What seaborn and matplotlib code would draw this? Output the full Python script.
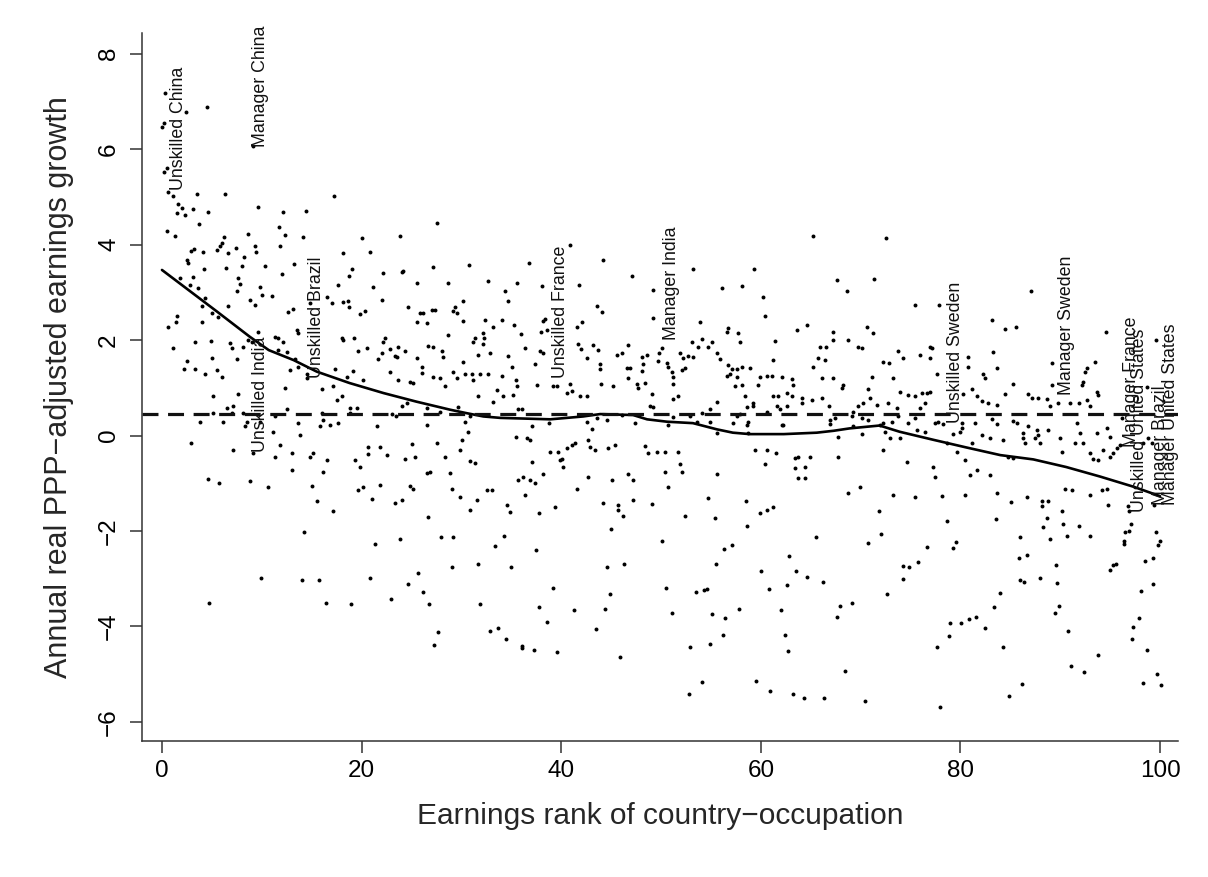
import numpy as np
import pandas as pd
import matplotlib
matplotlib.use('Agg')
import matplotlib.pyplot as plt
import seaborn as sns

# points, grouped by region of the plot: (earnings rank, growth)
pts_upper_left = [
    (0.30, 7.18), (2.41, 6.79), (4.54, 6.88), (0.0, 6.47), (0.20, 6.54), (0.20, 5.53), (0.47, 5.60),
    (0.64, 5.11), (1.14, 5.02), (9.15, 6.07), (3.48, 5.07), (6.32, 5.07), (1.64, 4.86), (1.97, 4.76),
    (1.47, 4.67), (2.31, 4.62), (3.08, 4.75), (4.65, 4.69), (3.74, 4.43), (0.54, 4.29), (1.31, 4.19),
    (9.65, 4.79), (12.09, 4.68), (14.43, 4.71), (17.27, 5.02), (27.59, 4.45), (11.76, 4.36), (12.33, 4.21),
    (8.65, 4.23), (6.21, 4.15), (5.98, 4.03), (5.81, 3.97), (5.48, 3.89), (6.65, 3.83), (7.42, 3.92),
    (9.32, 3.97), (9.42, 3.85), (11.83, 3.97), (14.10, 4.17), (20.01, 4.13), (23.85, 4.18), (18.11, 3.83),
    (20.84, 3.85), (2.87, 3.87), (3.21, 3.90), (4.14, 3.85), (2.47, 3.68), (2.64, 3.61), (4.21, 3.49),
    (6.42, 3.51), (7.98, 3.55), (8.22, 3.75), (10.32, 3.55), (13.23, 3.59), (19.01, 3.49), (24.18, 3.45),
    (27.12, 3.54), (30.80, 3.57),
]
pts_mid_left = [
    (1.80, 3.30), (3.14, 3.32), (2.81, 3.16), (3.64, 3.09), (3.98, 2.72), (4.31, 2.88), (1.47, 2.51),
    (1.41, 2.37), (0.64, 2.28), (3.98, 2.37), (4.98, 2.56), (5.65, 2.49), (6.65, 2.72), (7.82, 3.18),
    (7.65, 3.30), (7.48, 3.02), (8.82, 2.83), (9.32, 2.74), (9.82, 3.12), (9.99, 2.95), (10.99, 2.93),
    (11.99, 3.39), (1.14, 1.83), (3.31, 1.95), (4.88, 1.98), (4.98, 1.62), (2.54, 1.57), (2.21, 1.39),
    (3.31, 1.39), (4.31, 1.29), (5.48, 1.37), (5.98, 1.23), (6.82, 1.93), (6.98, 1.83), (7.55, 1.60),
    (8.15, 1.85), (8.65, 2.00), (8.99, 1.97), (9.65, 2.18), (11.32, 2.07), (11.66, 2.04), (12.16, 1.97),
    (11.66, 1.79), (12.49, 1.76), (13.33, 1.60), (12.83, 1.37), (13.66, 1.44), (14.50, 1.30), (14.50, 1.20),
    (13.50, 2.21), (13.66, 2.14), (12.66, 2.58), (13.16, 2.65), (14.83, 2.77), (16.50, 2.91), (17.00, 2.77),
    (17.67, 3.16), (18.17, 2.79), (18.67, 2.81), (18.77, 2.70), (19.84, 2.55), (20.34, 2.60), (21.18, 3.11),
    (22.01, 2.83), (18.01, 2.04), (19.24, 2.04), (18.17, 2.00), (20.51, 1.83), (19.67, 1.78), (21.68, 1.60),
    (22.01, 1.72), (22.18, 1.97), (22.35, 2.04), (22.85, 1.81), (23.35, 1.67), (23.68, 1.85), (24.35, 1.78),
    (23.52, 1.65), (25.52, 1.62), (26.02, 1.43), (26.02, 1.31), (26.69, 1.88), (27.19, 1.85), (28.03, 1.78),
    (28.19, 1.64), (28.69, 2.11), (29.19, 2.60), (29.53, 2.56), (29.36, 2.69), (27.36, 2.63), (27.02, 2.63),
    (26.19, 2.56), (25.85, 2.56), (26.52, 2.35), (25.52, 2.37), (24.69, 2.69), (25.59, 3.19), (28.69, 3.19),
    (30.20, 2.81), (30.20, 2.39), (31.37, 2.04), (31.20, 1.97), (32.20, 2.14), (32.30, 2.04), (32.20, 1.92),
    (33.20, 2.27), (32.37, 2.42), (32.70, 3.23), (31.70, 1.69), (32.87, 1.72), (30.20, 1.55), (29.19, 1.34),
    (29.53, 1.20), (30.36, 1.30), (31.03, 1.30), (31.20, 1.17), (31.87, 1.30), (32.70, 1.30), (28.36, 1.03),
    (27.19, 1.23), (27.86, 1.20), (24.85, 1.13), (25.19, 1.10), (23.68, 1.17), (22.85, 1.34), (20.18, 1.17),
    (19.17, 1.36), (18.51, 1.23), (17.34, 1.39), (17.17, 1.04), (16.00, 0.97), (18.01, 0.83), (17.50, 0.75),
    (18.84, 0.57), (12.49, 0.55), (12.33, 0.99), (7.65, 0.87), (5.15, 0.83), (6.48, 0.57), (7.15, 0.61),
    (6.98, 0.47), (5.15, 0.47), (8.15, 0.47), (3.81, 0.29), (6.15, 0.29), (8.49, 0.29), (8.32, 0.19),
    (9.82, 0.29), (11.32, 0.40), (11.16, 0.08), (13.66, 0.27), (13.83, 0.01), (16.00, 0.47), (16.17, 0.33),
    (15.83, 0.19), (16.84, 0.22), (17.67, 0.27), (18.84, 0.47), (19.51, 0.57), (21.51, 0.19), (20.68, -0.23),
    (21.85, -0.25), (22.51, -0.41), (20.68, -0.38), (19.34, -0.51), (19.84, -0.65), (16.50, -0.51),
    (15.17, -0.37), (14.83, -0.44), (12.99, -0.36), (12.99, -0.72), (11.83, -0.20), (11.32, -0.45),
    (9.15, -0.36), (7.15, -0.30), (2.87, -0.16), (4.65, -0.92), (5.75, -0.99), (8.82, -0.95), (10.66, -1.07),
    (15.00, -1.06), (15.50, -1.38), (17.10, -1.59), (16.17, -0.76), (19.67, -1.14), (20.18, -1.07),
    (21.01, -1.33), (21.85, -1.03), (23.35, -1.42), (24.02, -1.35), (24.85, -1.06), (25.19, -1.13),
    (26.52, -0.79), (26.86, -0.76), (27.52, -0.16), (26.52, 0.22), (25.02, -0.18), (25.35, -0.44),
    (24.35, -0.50), (28.36, -0.45), (28.86, -0.78), (29.03, -1.13), (29.86, -1.29), (30.86, -0.54),
    (31.37, -0.57), (31.53, -1.36), (32.54, -1.15), (33.03, -1.14), (29.86, -0.30), (30.03, -0.09),
    (30.70, 0.08), (30.36, 0.29), (30.86, 0.40), (23.02, 0.45), (23.45, 0.40), (24.02, 0.62), (24.52, 0.68),
    (26.52, 0.57), (27.86, 0.50), (29.70, 0.59), (29.86, 0.47), (31.70, 0.83), (33.20, 0.71), (33.54, 0.96),
    (30.86, -1.56), (26.69, -1.71), (24.02, 3.43), (22.18, 3.40), (18.77, 3.34),
]
pts_low_left = [
    (4.7, -3.51), (9.9, -2.99), (14.0, -3.03), (15.7, -3.02), (16.4, -3.51), (18.9, -3.53), (20.8, -2.99),
    (22.9, -3.43), (24.7, -3.11), (25.7, -2.88), (26.2, -3.28), (26.8, -3.54), (27.7, -4.11), (27.3, -4.38),
    (29.1, -2.75), (31.7, -2.70), (31.9, -3.53), (32.9, -4.10), (33.7, -4.04), (33.4, -2.31), (14.2, -2.03),
    (21.3, -2.28), (23.8, -2.17), (28.0, -2.13), (29.2, -2.12),
]
pts_upper_mid = [
    (36.81, 3.61), (40.88, 3.99), (44.22, 3.68), (53.17, 3.50), (59.32, 3.50), (65.27, 4.18), (72.55, 4.13),
]
pts_mid_mid = [
    (34.37, 3.02), (34.71, 2.81), (35.54, 3.20), (38.04, 3.13), (34.04, 2.42), (35.27, 2.32), (35.94, 2.13),
    (38.15, 2.39), (38.38, 2.44), (37.94, 2.18), (38.55, 2.21), (41.82, 3.15), (43.56, 2.71), (44.06, 2.58),
    (42.05, 2.37), (41.55, 2.28), (47.06, 3.34), (49.23, 3.04), (49.17, 2.46), (36.38, 1.83), (34.71, 1.67),
    (35.04, 1.44), (37.38, 1.50), (38.21, 1.72), (37.88, 1.78), (34.04, 1.25), (35.47, 1.17), (35.61, 1.04),
    (37.61, 1.06), (39.15, 1.04), (39.55, 1.03), (34.20, 0.82), (35.21, 0.85), (40.88, 1.09), (40.55, 0.89),
    (41.05, 0.94), (41.72, 1.92), (41.95, 1.81), (42.62, 1.62), (43.22, 1.90), (43.72, 1.79), (43.89, 1.50),
    (43.89, 1.40), (43.96, 1.08), (45.23, 1.04), (45.56, 1.69), (46.06, 1.74), (46.73, 1.90), (46.56, 1.41),
    (46.73, 1.20), (46.90, 1.41), (47.56, 1.09), (47.73, 0.99), (48.07, 1.64), (48.57, 1.69), (48.23, 1.50),
    (48.07, 1.36), (48.40, 1.11), (49.07, 0.88), (49.84, 1.74), (49.74, 1.57), (50.07, 1.83), (50.57, 1.53),
    (50.74, 1.44), (51.07, 1.34), (51.24, 1.23), (52.07, 1.37), (52.41, 1.41), (51.24, 1.09), (51.74, 0.82),
    (51.24, 0.76), (51.91, 1.74), (52.17, 1.62), (52.74, 1.67), (53.08, 1.97), (53.24, 1.64), (53.74, 1.85),
    (54.08, 2.02), (54.75, 1.85), (55.08, 1.97), (55.58, 1.72), (53.91, 2.37), (56.58, 2.16), (56.75, 2.25),
    (57.75, 2.14), (57.92, 1.97), (55.91, 1.60), (56.75, 1.48), (57.08, 1.39), (57.58, 1.39), (56.58, 1.25),
    (56.92, 1.29), (57.58, 1.23), (58.08, 1.43), (58.92, 1.41), (57.42, 1.04), (58.08, 1.06), (58.42, 0.82),
    (59.25, 0.69), (59.25, 0.62), (59.75, 1.06), (59.92, 1.23), (60.59, 1.25), (61.09, 1.25), (61.26, 1.58),
    (61.43, 1.99), (62.09, 1.22), (63.10, 1.18), (63.26, 1.06), (61.76, 0.82), (61.26, 0.82), (62.59, 0.89),
    (63.10, 0.83), (63.60, 2.21), (64.60, 2.32), (67.27, 2.18), (67.27, 2.00), (68.77, 2.00), (67.60, 3.25),
    (68.61, 3.02), (56.08, 3.09), (58.08, 3.13), (60.26, 2.90), (60.42, 2.50), (65.93, 1.85), (66.54, 1.86),
    (65.77, 1.62), (66.43, 1.58), (65.27, 1.43), (66.10, 1.20), (67.27, 1.20), (68.27, 1.06), (68.10, 0.99),
    (64.10, 0.78), (65.10, 0.75), (66.10, 0.78), (66.87, 0.61), (64.10, 0.68), (62.59, 0.61), (61.93, 0.55),
    (61.59, 0.61), (58.59, 0.59), (58.75, 0.29), (57.92, 0.45), (58.59, 0.22), (57.25, 0.26), (55.58, 0.71),
    (54.91, 0.55), (54.08, 0.48), (52.91, 0.41), (51.24, 0.38), (50.74, 0.22), (48.90, 0.62), (49.23, 0.60),
    (47.40, 0.26), (46.06, 0.43), (44.56, 0.33), (43.56, 0.36), (42.55, 0.29), (41.89, 0.82), (42.55, 0.83),
    (38.81, 0.26), (37.04, 0.20), (35.71, 0.55), (36.04, 0.55), (60.59, 0.50), (62.09, 0.22), (62.26, 0.22),
    (66.94, 0.33), (66.94, 0.24), (67.44, 0.36), (67.77, -0.04), (67.77, -0.46), (68.77, -1.21), (35.47, -0.02),
    (36.54, -0.06), (36.88, -0.09), (38.88, -0.34), (39.72, -0.34), (40.05, -0.50), (40.55, -0.27),
    (41.05, -0.20), (41.38, -0.16), (42.72, -0.09), (42.89, -0.23), (43.39, -0.30), (44.73, -0.27),
    (45.39, -0.20), (48.40, -0.22), (48.73, -0.37), (49.57, -0.34), (50.40, -0.34), (51.74, -0.34),
    (51.91, -0.60), (52.07, -0.76), (50.40, -0.76), (50.74, -1.08), (46.73, -0.80), (47.23, -0.93),
    (45.06, -0.94), (42.72, -0.86), (41.62, -1.11), (40.22, -0.65), (39.88, -0.51), (37.04, -0.55),
    (35.71, -0.94), (36.21, -0.87), (36.88, -0.94), (37.38, -1.00), (38.21, -0.80), (36.38, -1.24),
    (34.54, -1.45), (34.87, -1.61), (37.81, -1.63), (39.38, -1.49), (44.22, -1.42), (45.73, -1.45),
    (45.73, -1.57), (46.23, -1.68), (47.23, -1.35), (49.07, -1.43), (52.41, -1.68), (55.41, -1.73),
    (54.75, -1.31), (55.58, -0.80), (58.52, -1.38), (59.92, -1.63), (60.59, -1.55), (61.26, -1.49),
    (59.42, -0.30), (60.59, -0.30), (61.53, -0.36), (60.42, -0.60), (63.43, -0.48), (63.76, -0.46),
    (64.93, -0.44), (63.43, -0.69), (64.43, -0.66), (63.76, -0.90), (64.43, -0.90), (55.58, 0.05),
    (53.58, 0.29), (54.91, 0.29), (57.58, 0.41), (58.75, 0.05), (43.05, 0.13),
]
pts_low_mid = [
    (34.27, -2.10), (37.44, -2.40), (34.94, -2.76), (39.15, -3.20), (37.81, -3.60), (38.55, -3.90),
    (41.28, -3.66), (34.47, -4.27), (36.04, -4.41), (36.04, -4.46), (37.28, -4.50), (39.55, -4.54),
    (43.46, -4.05), (44.39, -3.63), (44.89, -3.31), (44.56, -2.75), (46.33, -2.70), (44.99, -1.96),
    (45.89, -4.65), (50.14, -2.20), (50.50, -3.20), (51.07, -3.71), (58.65, -1.89), (56.32, -2.38),
    (57.15, -2.29), (55.51, -2.70), (53.51, -3.28), (54.31, -3.23), (54.65, -3.22), (55.11, -3.73),
    (56.42, -3.83), (57.85, -3.63), (56.21, -4.17), (54.95, -4.37), (52.88, -4.43), (54.11, -5.17),
    (52.77, -5.41), (60.02, -2.83), (60.82, -3.22), (62.83, -2.53), (63.56, -2.84), (64.63, -2.96),
    (65.53, -2.13), (66.27, -3.07), (62.63, -3.14), (62.03, -3.65), (62.46, -4.18), (62.76, -4.51),
    (67.90, -3.57), (67.64, -3.80), (68.44, -4.94), (59.55, -5.14), (60.92, -5.35), (63.26, -5.41),
    (64.37, -5.50), (66.37, -5.50),
]
pts_mid_right = [
    (71.34, 3.29), (75.45, 2.74), (77.89, 2.74), (70.61, 2.27), (71.21, 2.14), (69.78, 1.85), (70.11, 1.83),
    (73.78, 1.78), (76.96, 1.85), (77.12, 1.83), (76.96, 1.62), (74.28, 1.62), (72.21, 1.55), (72.88, 1.53),
    (73.21, 1.20), (75.95, 1.69), (77.62, 1.29), (80.80, 1.65), (80.80, 1.44), (83.13, 2.43), (84.47, 2.23),
    (85.57, 2.27), (87.04, 3.02), (83.24, 1.76), (83.64, 1.41), (82.30, 1.29), (82.47, 1.20), (85.31, 1.08),
    (89.15, 1.53), (89.15, 1.06), (92.65, 1.41), (92.49, 1.34), (92.32, 1.13), (92.15, 1.06), (93.49, 1.55),
    (94.59, 2.16), (93.66, 0.92), (93.82, 0.85), (71.11, 1.23), (70.78, 0.97), (70.94, 0.78), (70.21, 0.68),
    (69.78, 0.61), (69.27, 0.50), (71.61, 0.64), (72.78, 0.68), (73.62, 0.57), (74.79, 0.85), (75.45, 0.82),
    (76.12, 0.89), (76.62, 0.89), (76.96, 0.92), (76.46, 0.68), (75.95, 0.57), (73.95, 0.92), (80.30, 0.87),
    (81.13, 0.97), (81.63, 0.82), (82.13, 0.73), (82.80, 0.68), (83.64, 0.64), (84.47, 0.87), (86.81, 0.88),
    (87.14, 0.78), (87.81, 0.78), (88.65, 0.76), (88.98, 0.61), (89.82, 0.68), (90.98, 0.68), (91.92, 0.69),
    (92.72, 0.75), (92.99, 0.61), (70.11, 0.36), (70.78, 0.33), (71.95, 0.22), (72.28, 0.26), (73.11, 0.29),
    (73.78, 0.40), (74.79, 0.26), (75.45, 0.36), (77.46, 0.26), (77.79, 0.29), (78.23, 0.24), (80.13, 0.26),
    (80.13, 0.15), (81.47, 0.26), (83.13, 0.34), (83.64, 0.24), (85.31, 0.31), (85.64, 0.26), (86.81, 0.19),
    (87.64, 0.12), (87.81, 0.01), (87.48, -0.06), (87.98, -0.16), (88.81, 0.12), (86.31, 0.05),
    (86.31, -0.06), (86.47, -0.16), (91.65, 0.26), (91.98, 0.06), (91.48, -0.16), (89.98, -0.06),
    (90.15, -0.34), (92.32, -0.16), (93.66, 0.05), (94.66, 0.15), (94.99, -0.02), (94.32, -0.30),
    (93.32, -0.50), (93.82, -0.51), (92.99, -0.37), (94.99, -0.44), (95.33, -0.37), (95.66, -0.27),
    (96.00, -0.20), (98.83, -0.06), (99.17, -0.15), (98.33, -0.16), (99.60, 2.00), (69.11, 0.40),
    (69.27, 0.19), (70.11, 0.03), (72.45, 0.08), (72.95, -0.06), (73.95, -0.06), (75.62, 0.12), (76.46, 0.08),
    (79.96, 0.08), (79.29, 0.03), (81.13, -0.16), (82.13, 0.01), (82.97, -0.06), (84.31, -0.09),
    (84.81, -0.44), (85.31, -0.48), (82.97, -0.83), (81.63, -0.72), (80.47, -0.51), (79.63, -0.34),
    (77.29, -0.65), (77.46, -0.86), (74.62, -0.55), (72.28, -0.30), (69.94, -1.08), (73.28, -1.24),
    (75.45, -1.28), (78.12, -1.27), (80.47, -1.24), (83.64, -1.21), (86.64, -1.28), (90.48, -1.11),
    (91.15, -1.14), (93.00, -1.25), (94.16, -1.15), (94.66, -1.13), (80.96, -0.83), (78.63, -0.16),
    (96.16, 0.36), (98.67, 1.02),
]
pts_low_right = [
    (71.88, -1.59), (72.01, -2.06), (70.71, -2.26), (76.69, -2.33), (78.63, -1.80), (79.56, -2.24),
    (79.23, -2.35), (74.28, -2.73), (74.89, -2.75), (75.79, -2.66), (74.22, -3.01), (72.61, -3.32),
    (69.11, -3.50), (70.44, -5.56), (77.96, -5.68), (77.69, -4.43), (78.89, -4.21), (78.96, -3.92),
    (80.03, -3.92), (80.86, -3.85), (81.57, -3.81), (82.47, -4.04), (83.37, -3.60), (83.94, -3.30),
    (84.24, -4.43), (84.84, -5.45), (86.17, -5.20), (83.54, -1.75), (85.10, -1.40), (85.94, -2.13),
    (85.84, -2.56), (86.64, -2.50), (86.01, -3.03), (86.37, -3.07), (87.94, -2.99), (88.14, -1.37),
    (88.18, -1.47), (88.78, -1.38), (88.64, -1.73), (88.28, -1.91), (88.98, -2.17), (90.18, -1.58),
    (90.32, -1.85), (90.65, -2.10), (91.92, -1.90), (92.99, -2.10), (89.55, -2.72), (89.68, -3.08),
    (89.92, -3.57), (89.48, -3.71), (90.82, -4.10), (91.05, -4.82), (92.35, -4.95), (93.79, -4.60),
    (94.83, -1.45), (96.83, -1.47), (96.90, -1.59), (97.10, -1.86), (96.93, -1.99), (96.53, -2.03),
    (96.43, -2.20), (96.36, -2.28), (95.00, -2.82), (95.26, -2.72), (95.63, -2.69), (98.07, -3.25),
    (99.33, -3.12), (98.50, -2.63), (99.27, -2.57), (99.60, -2.03), (100.0, -2.22), (99.80, -2.30),
    (99.43, -1.45), (97.90, -3.82), (97.26, -4.02), (97.16, -4.26), (98.70, -4.50), (98.33, -5.18),
    (99.70, -5.00), (100.07, -5.22),
]

# smoothed (lowess) line
smooth_rank = [0, 5.5, 8.8, 10.7, 13.2, 15.5, 18.8, 22.2, 25.5, 28.9, 30.5, 32.2, 33.9, 38.9, 42.2,
               43.9, 47.2, 48.6, 50.6, 53.2, 55.6, 57.2, 58.9, 62.3, 65.6, 67.3, 68.9, 71.9, 73.9,
               77.3, 80.6, 84.0, 87.3, 90.6, 94.0, 97.3, 100.0]
smooth_growth = [3.47, 2.60, 2.07, 1.79, 1.58, 1.34, 1.10, 0.89, 0.71, 0.54, 0.47, 0.40, 0.37, 0.34, 0.40,
                 0.45, 0.43, 0.34, 0.29, 0.26, 0.13, 0.06, 0.03, 0.03, 0.06, 0.10, 0.15, 0.21, 0.08,
                 -0.09, -0.25, -0.41, -0.50, -0.66, -0.86, -1.07, -1.27]
mean_growth = 0.45

label_text = ['Unskilled China', 'Manager China', 'Unskilled India', 'Unskilled Brazil',
              'Unskilled France', 'Manager India', 'Unskilled Sweden', 'Manager Sweden',
              'Manager France', 'Unskilled United States', 'Manager Brazil', 'Manager United States']
label_rank = [1.7, 9.9, 9.9, 15.5, 39.9, 51.1, 79.5, 90.65, 97.1, 97.9, 100.0, 101.0]
label_growth = [5.14, 6.05, -0.34, 1.20, 1.21, 2.0, 0.26, 0.85, -0.24, -1.6, -1.46, -1.46]

xticks = [0, 20, 40, 60, 80, 100]
yticks = [-6, -4, -2, 0, 2, 4, 6, 8]

sns.set_theme(style='ticks')
plt.rcParams['font.family'] = ['Liberation Sans', 'DejaVu Sans']

pts = (pts_upper_left + pts_mid_left + pts_low_left + pts_upper_mid + pts_mid_mid
       + pts_low_mid + pts_mid_right + pts_low_right)
df = pd.DataFrame(pts, columns=['rank', 'growth'])
smooth = pd.DataFrame({'rank': smooth_rank, 'growth': smooth_growth})

fig = plt.figure(figsize=(12.08, 8.77), dpi=100)
ax = fig.add_axes([0.1173, 0.1551, 0.8579, 0.8070])

sns.scatterplot(data=df, x='rank', y='growth', ax=ax, s=8, color='black',
                linewidth=0, legend=False)
sns.lineplot(data=smooth, x='rank', y='growth', ax=ax, color='black', lw=1.9, sort=False)
ax.axhline(mean_growth, color='#111111', lw=2.3, dashes=(5, 3.0))

# labels overlap at the right end, as in the original
for t, xr, yg in zip(label_text, label_rank, label_growth):
    ax.text(xr, yg, t, rotation=90, ha='center', va='bottom', fontsize=12.8, color='#111111')

ax.set_xlim(-2.03, 101.8)
ax.set_ylim(-6.4, 8.43)
ax.set_xticks(xticks)
ax.set_yticks(yticks)
ax.tick_params(direction='out', length=8.6, width=1.1, color='#333333', labelsize=17.5,
               labelcolor='black')
ax.tick_params(axis='x', pad=5)
ax.tick_params(axis='y', labelrotation=90, pad=7)
for lab in ax.get_yticklabels():
    lab.set_va('center')

sns.despine(ax=ax)
for side in ['left', 'bottom']:
    ax.spines[side].set_linewidth(1.1)
    ax.spines[side].set_color('#333333')

ax.set_xlabel('Earnings rank of country\u2212occupation', fontsize=21.5)
ax.set_ylabel('Annual real PPP\u2212adjusted earnings growth', fontsize=22)
ax.xaxis.set_label_coords(0.5, -0.086)
ax.yaxis.set_label_coords(-0.065, 0.5)

fig.savefig('out.png', dpi=100, facecolor='white')
